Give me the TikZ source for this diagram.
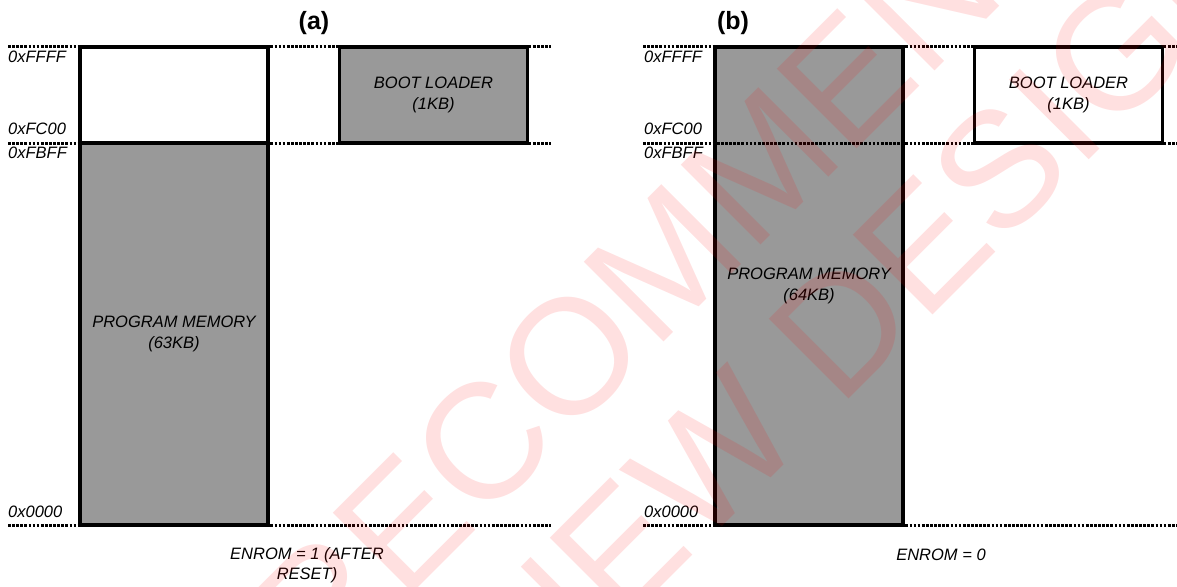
\documentclass[tikz,border=0pt]{standalone}
\usepackage{fontspec}
\setmainfont{Liberation Sans}
\usetikzlibrary{positioning}
\tikzset{
  memblk/.style={draw, line width=3.3pt, rectangle, inner sep=0pt, align=center,
    minimum width=188pt, font=\fontsize{16.5}{20.5}\selectfont\itshape},
  grayblk/.style={memblk, fill=black!40},
  whiteblk/.style={memblk, fill=white},
  addr/.style={inner sep=0pt, anchor=west, font=\fontsize{16.5}{20.5}\selectfont\itshape},
  modelbl/.style={inner sep=0pt, align=center, font=\fontsize{16.5}{20.5}\selectfont\itshape},
  dotln/.style={line width=3pt, dash pattern=on 2.7pt off 1.4pt},
  ttl/.style={inner sep=0pt, font=\fontsize{25}{30}\selectfont\bfseries},
  wmark/.style={text=red, text opacity=0.12, inner sep=0pt, anchor=base west,
    rotate=45, font=\fontsize{164}{170}\selectfont}
}
\begin{document}
\begin{tikzpicture}[x=1pt,y=-1pt]
        \useasboundingbox (0,0) rectangle (1177,586);
        %Tiêu đề
        \node[ttl] (ttlA) at (314,23) {(a)};
        \node[ttl] (ttlB) at (733,23) {(b)};
        %Khối (a)
        \node[whiteblk, minimum height=96pt] (freeA) at (174,95) {};
        \node[grayblk, minimum height=382pt] (progA) at (174,334) {PROGRAM MEMORY\\(63KB)};
        \node[grayblk, minimum height=96pt] (bootA) at (433.5,95) {BOOT LOADER\\(1KB)};
        %Khối (b)
        \node[grayblk, minimum height=478pt] (progB) at (809,286) {PROGRAM MEMORY\\(64KB)};
        \node[whiteblk, minimum height=96pt] (bootB) at (1068.5,95) {BOOT LOADER\\(1KB)};
        %Đường chấm
        \foreach \yy in {47,143,525}{
          \draw[dotln] (8,\yy) -- (551,\yy);
          \draw[dotln] (643,\yy) -- (1177,\yy);
        }
        %Địa chỉ
        \foreach \px/\sfx in {8/A,644/B}{
          \node[addr] (hi\sfx) at (\px,57) {0xFFFF};
          \node[addr] (bl\sfx) at (\px,129) {0xFC00};
          \node[addr] (pt\sfx) at (\px,153) {0xFBFF};
          \node[addr] (lo\sfx) at (\px,512) {0x0000};
        }
        %Chế độ
        \node[modelbl] (modeA) at (307,565) {ENROM = 1 (AFTER\\RESET)};
        \node[modelbl] (modeB) at (941,555) {ENROM = 0};
        %Dấu nước
        \node[wmark] (wmA) at (319.5,686.6) {RECOMMENDED};
        \node[wmark] (wmB) at (536.8,711.3) {NEW DESIGNS};
    \end{tikzpicture}
\end{document}
